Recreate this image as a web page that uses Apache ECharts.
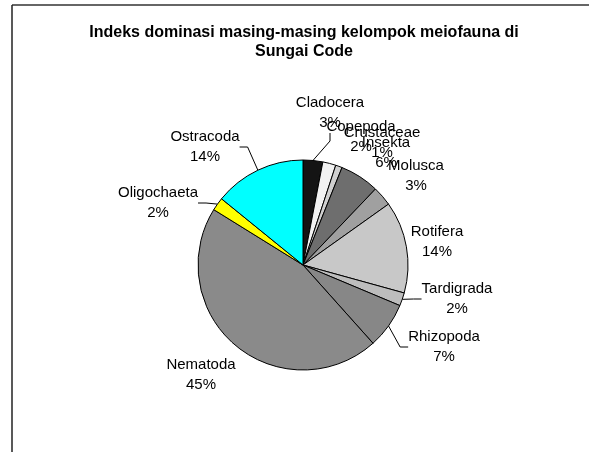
<!DOCTYPE html>
<html lang="id">

<head>
    <meta charset="UTF-8">
    <title>Indeks dominasi meiofauna</title>
    <style>
        html,
        body {
            margin: 0;
            padding: 0;
            background: #fff;
        }
    </style>
</head>

<body>
    <div id="show" style="width: 589px; height: 452px;"></div>

    <script src="https://cdn.jsdelivr.net/npm/echarts@6/dist/echarts.min.js"></script>
    <script>
        // kelompok meiofauna, searah jarum jam dari atas
        var groups = ['Cladocera', 'Copepoda', 'Crustaceae', 'Insekta', 'Molusca', 'Rotifera',
            'Tardigrada', 'Rhizopoda', 'Nematoda', 'Oligochaeta', 'Ostracoda'];
        // indeks dominasi (%)
        var dominance = [3, 2, 1, 6, 3, 14, 2, 7, 45, 2, 14];

        var fills = ['#141414', '#f2f2f2', '#d0d0d0', '#6e6e6e', '#a0a0a0', '#c8c8c8',
            '#bdbdbd', '#878787', '#8a8a8a', '#ffff00', '#00ffff'];
        var withLine = ['Cladocera', 'Tardigrada', 'Rhizopoda', 'Oligochaeta', 'Ostracoda'];

        // posisi label (tengah teks), seperti digeser manual di grafik asli
        var labelPos = {
            Cladocera: [330, 113], Copepoda: [361, 137], Crustaceae: [382, 143],
            Insekta: [386, 153], Molusca: [416, 176], Rotifera: [437, 242],
            Tardigrada: [457, 299], Rhizopoda: [444, 347], Nematoda: [201, 375],
            Oligochaeta: [158, 203], Ostracoda: [205, 147]
        };

        var chart = echarts.init(document.getElementById('show'));

        chart.setOption({
            animation: false,
            title: {
                text: 'Indeks dominasi masing-masing kelompok meiofauna di\nSungai Code',
                left: 299,
                top: 18,
                textAlign: 'center',
                textStyle: {
                    fontFamily: 'Liberation Sans, Arial, sans-serif',
                    fontSize: 16,
                    fontWeight: 'bold',
                    color: '#000',
                    lineHeight: 19
                }
            },
            graphic: [
                { type: 'line', shape: { x1: 12, y1: 5, x2: 589, y2: 5 }, style: { stroke: '#333', lineWidth: 1.5 } },
                { type: 'line', shape: { x1: 12, y1: 5, x2: 12, y2: 452 }, style: { stroke: '#222', lineWidth: 1.5 } }
            ],
            series: [{
                type: 'pie',
                center: [303, 265],
                radius: [0, 105],
                startAngle: 90,
                clockwise: true,
                avoidLabelOverlap: false,
                itemStyle: { borderColor: '#000', borderWidth: 1 },
                label: {
                    show: true,
                    position: 'outside',
                    formatter: function (p) { return p.name + '\n' + p.value + '%'; },
                    fontFamily: 'Liberation Sans, Arial, sans-serif',
                    fontSize: 15,
                    lineHeight: 20,
                    color: '#000',
                    align: 'center'
                },
                labelLine: { show: true, length: 8, length2: 8, lineStyle: { color: '#000', width: 1 } },
                labelLayout: function (p) {
                    var pos = labelPos[groups[p.dataIndex]];
                    return { x: pos[0], y: pos[1], align: 'center', verticalAlign: 'middle' };
                },
                emphasis: { disabled: true },
                data: groups.map(function (g, i) {
                    return {
                        name: g,
                        value: dominance[i],
                        itemStyle: { color: fills[i] },
                        labelLine: { show: withLine.indexOf(g) >= 0 }
                    };
                })
            }]
        });
    </script>
</body>

</html>
